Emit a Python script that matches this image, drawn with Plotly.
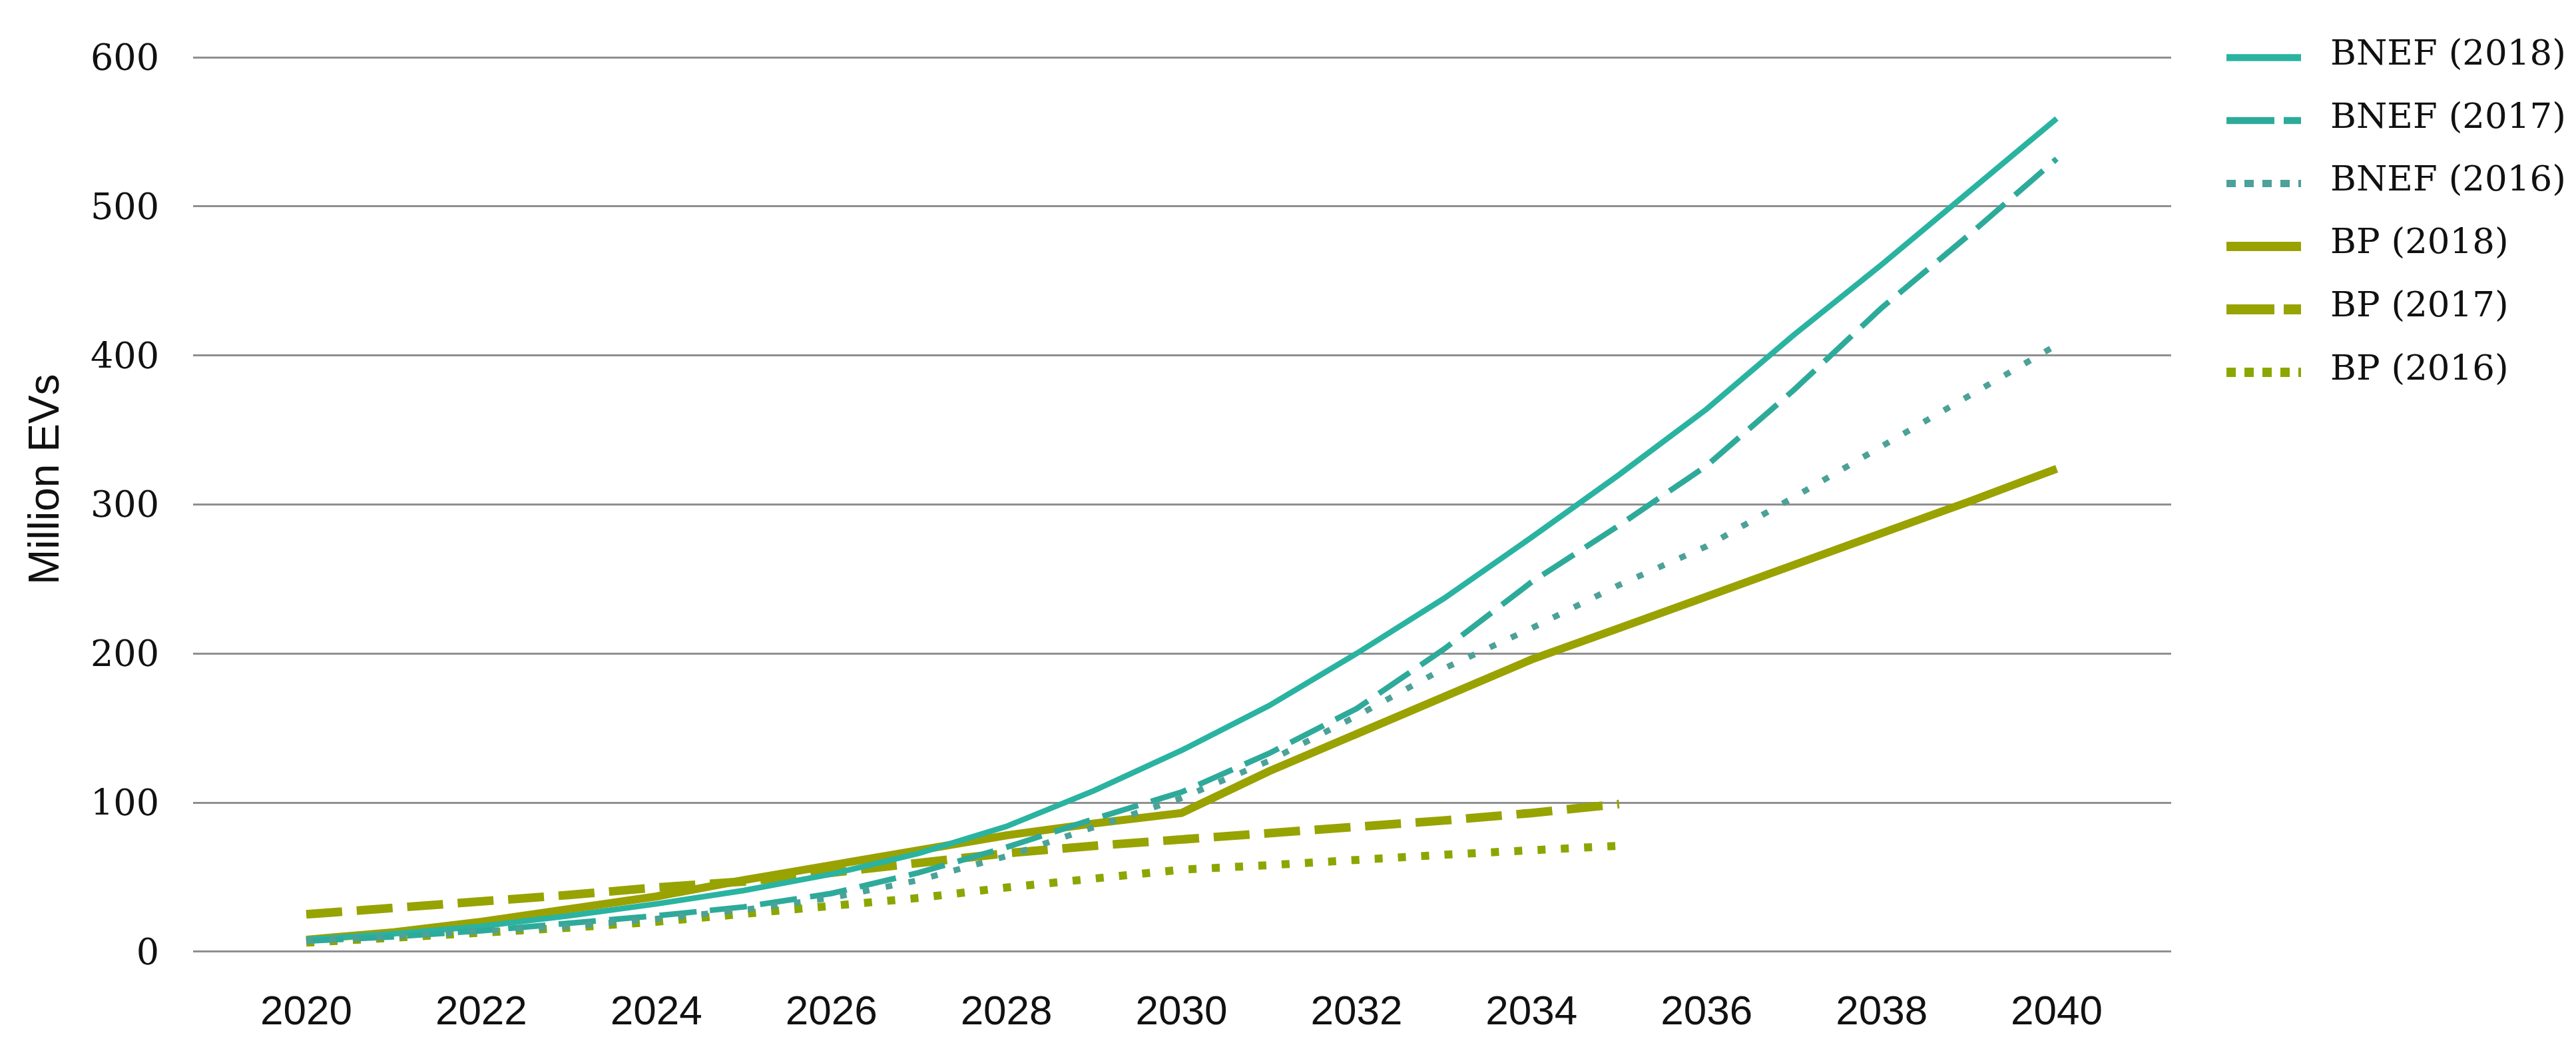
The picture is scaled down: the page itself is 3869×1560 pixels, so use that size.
import plotly.graph_objects as go

# ---------------- data ----------------
years = list(range(2020, 2041))
years_short = list(range(2020, 2036))

bnef_2018 = [8, 12, 17, 24, 32, 41, 52, 66, 84, 108, 135, 165, 200, 237, 278, 320, 364, 414, 461, 510, 559]
bnef_2017 = [7, 10, 14, 19, 24, 30, 39, 53, 70, 89, 107, 133, 163, 203, 248, 286, 326, 377, 432, 481, 532]
bnef_2016 = [7, 10, 13, 17, 22, 28, 36, 48, 64, 84, 103, 128, 158, 190, 217, 246, 272, 305, 339, 373, 407]
bp_2018 = [8, 13, 20, 28, 37, 48, 58, 69, 78, 86, 93, 121, 146, 171, 196, 217, 238, 259, 281, 302, 324]
bp_2017 = [25, 29, 33, 38, 43, 47, 53, 60, 66, 71, 75, 79, 84, 88, 93, 99]
bp_2016 = [6, 9, 12, 16, 20, 25, 30, 36, 43, 49, 55, 58, 62, 65, 68, 71]

series_names = ["BNEF (2018)", "BNEF (2017)", "BNEF (2016)", "BP (2018)", "BP (2017)", "BP (2016)"]
series_x = [years, years, years, years, years_short, years_short]
series_y = [bnef_2018, bnef_2017, bnef_2016, bp_2018, bp_2017, bp_2016]

x_tick_vals = list(range(2020, 2041, 2))
y_tick_vals = [0, 100, 200, 300, 400, 500, 600]
y_title = "Million EVs"

# ---------------- styles ----------------
styles = [
    dict(color="#2AB3A1", width=8.5, dash="solid"),
    dict(color="#2EAA9A", width=8.5, dash="56px,20px"),
    dict(color="#4CA198", width=9, dash="10px,25px"),
    dict(color="#99A200", width=12, dash="solid"),
    dict(color="#96A300", width=13, dash="54px,22px"),
    dict(color="#8AA700", width=12, dash="12px,23px"),
]
legend_dash = ["solid", "72px,14px", "14px,13px", "solid", "72px,14px", "14px,13px"]

W, H = 3869, 1560
L, R, T, B = 282, 3253, 76, 1423  # plot area in pixels (range padded 1 unit each side)
pw, ph = R - L, B - T

fig = go.Figure()

# draw BP first, BNEF on top
order = [3, 4, 5, 0, 1, 2]
for i in order:
    fig.add_trace(go.Scatter(
        x=series_x[i], y=series_y[i], mode="lines", name=series_names[i],
        line=dict(color=styles[i]["color"], width=styles[i]["width"], dash=styles[i]["dash"]),
        showlegend=False, hoverinfo="x+y+name",
    ))

# manual legend (long sample lines like the reference)
shapes = []
annotations = []
for i, name in enumerate(series_names):
    yr = 78.5 + i * 94.5
    yp = (B - yr) / ph
    shapes.append(dict(
        type="line", xref="paper", yref="paper",
        x0=(3336 - L) / pw, x1=(3448 - L) / pw, y0=yp, y1=yp,
        line=dict(color=styles[i]["color"], width=styles[i]["width"] + 2, dash=legend_dash[i]),
    ))
    annotations.append(dict(
        xref="paper", yref="paper", x=(3490 - L) / pw, y=(B - yr + 8) / ph,
        xanchor="left", yanchor="middle", showarrow=False, text=name,
        font=dict(family="DejaVu Serif", size=53, color="#111111"),
    ))

annotations.append(dict(
    xref="paper", yref="paper", x=(58 - L) / pw, y=(B - 712) / ph,
    xanchor="center", yanchor="middle", showarrow=False, text=y_title,
    textangle=-90, font=dict(family="Liberation Sans", size=64, color="#111111"),
))

fig.update_layout(
    width=W, height=H,
    margin=dict(l=L, r=W - R, t=T, b=H - B, pad=0),
    paper_bgcolor="white", plot_bgcolor="white",
    shapes=shapes, annotations=annotations,
    showlegend=False,
)

fig.update_xaxes(
    range=[2018.707, 2041.308], tickmode="array", tickvals=x_tick_vals,
    ticktext=[str(v) for v in x_tick_vals],
    showgrid=False, zeroline=False, showline=False, ticks="",
    tickfont=dict(family="Liberation Sans", size=62, color="#111111"),
    ticklabelstandoff=44,
)
fig.update_yaxes(
    range=[-1, 601], tickmode="array", tickvals=y_tick_vals,
    showgrid=True, gridcolor="#8f8f8f", gridwidth=3,
    zeroline=False, showline=False, ticks="",
    tickfont=dict(family="DejaVu Serif", size=54, color="#111111"),
    ticklabelstandoff=50,
)

fig.write_html("out.html")
